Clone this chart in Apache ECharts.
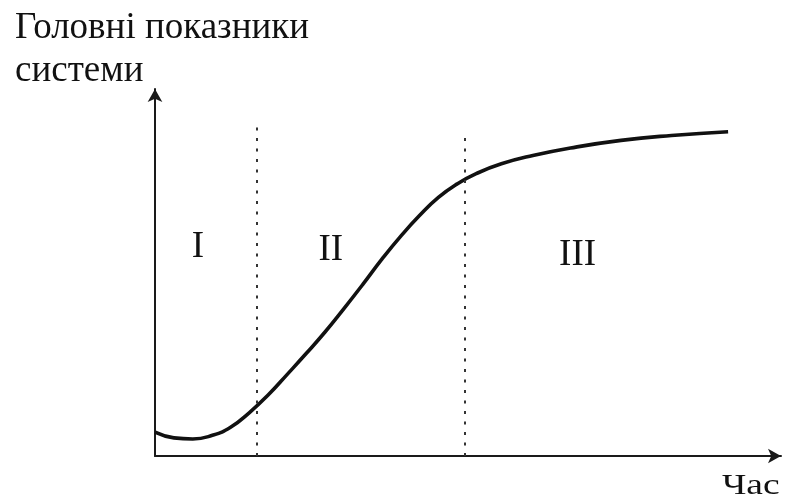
<!DOCTYPE html>
<html>
<head>
<meta charset="utf-8">
<script src="https://cdn.jsdelivr.net/npm/echarts@6/dist/echarts.min.js"></script>
<style>
  html, body { margin: 0; padding: 0; background: #fff; }
  #chart { width: 787px; height: 503px; }
</style>
</head>
<body>
<div id="chart"></div>
<script>
// час (умовні одиниці) і головні показники системи
var timeVals = [0, 3, 6, 9, 12, 15, 18, 21, 24, 27, 30, 33, 36, 39, 42, 45, 48, 51, 55, 60, 66, 74, 82, 91];
var systemVals = [6.3, 4.8, 4.5, 5.4, 7.6, 11.5, 16.2, 21.6, 27.1, 32.8, 39.0, 45.4, 52.0, 58.1, 63.6, 68.4, 72.0, 74.7, 77.3, 79.5, 81.5, 83.5, 84.8, 85.8];
// межі етапів
var stageBounds = [16.2, 49.2];
var stageTops = [87.3, 84.7];
// підписи етапів
var stageNames = ['I', 'II', 'III'];
var stageX = [6.8, 27.9, 67.1];
var stageY = [55.3, 54.5, 53.2];

var chart = echarts.init(document.getElementById('chart'));

var curve = [];
for (var i = 0; i < timeVals.length; i++) {
    curve.push([timeVals[i], systemVals[i]]);
}
var bounds = stageBounds.map(function (b, i) {
    return [{ coord: [b, 0] }, { coord: [b, stageTops[i]] }];
});
var labels = stageNames.map(function (n, i) {
    return { value: [stageX[i], stageY[i]], name: n };
});

var serif = 'Liberation Serif';

var option = {
    backgroundColor: '#fff',
    animation: false,
    title: {
        text: 'Головні показники\nсистеми',
        left: 10,
        top: 2,
        textStyle: {
            fontFamily: serif,
            fontWeight: 'normal',
            fontSize: 37,
            lineHeight: 43,
            color: '#111'
        }
    },
    graphic: [
        {
            type: 'text',
            x: 722,
            y: 501,
            scaleX: 1.25,
            style: {
                text: 'Час',
                fontFamily: serif,
                fontSize: 30,
                verticalAlign: 'bottom',
                fill: '#111'
            }
        }
    ],
    grid: {
        left: 155,
        right: 6,
        top: 89,
        bottom: 47
    },
    xAxis: {
        type: 'value',
        min: 0,
        max: 99.4,
        splitLine: { show: false },
        axisTick: { show: false },
        axisLabel: { show: false },
        axisLine: {
            onZero: false,
            symbol: ['none', 'arrow'],
            symbolSize: [11, 13],
            lineStyle: { color: '#1a1a1a', width: 2 }
        }
    },
    yAxis: {
        type: 'value',
        min: 0,
        max: 97.1,
        splitLine: { show: false },
        axisTick: { show: false },
        axisLabel: { show: false },
        axisLine: {
            show: true,
            onZero: false,
            symbol: ['none', 'arrow'],
            symbolSize: [11, 13],
            lineStyle: { color: '#1a1a1a', width: 2 }
        }
    },
    series: [
        {
            type: 'line',
            data: curve,
            smooth: true,
            symbol: 'none',
            lineStyle: { color: '#111', width: 3.6 },
            markLine: {
                silent: true,
                symbol: 'none',
                label: { show: false },
                lineStyle: { color: '#333', width: 2, type: [3, 7.5] },
                data: bounds
            }
        },
        {
            type: 'scatter',
            data: labels,
            symbolSize: 0,
            itemStyle: { opacity: 1 },
            label: {
                show: true,
                position: 'inside',
                formatter: '{b}',
                fontFamily: serif,
                fontSize: 37,
                color: '#111'
            }
        }
    ]
};

chart.setOption(option);
</script>
</body>
</html>
